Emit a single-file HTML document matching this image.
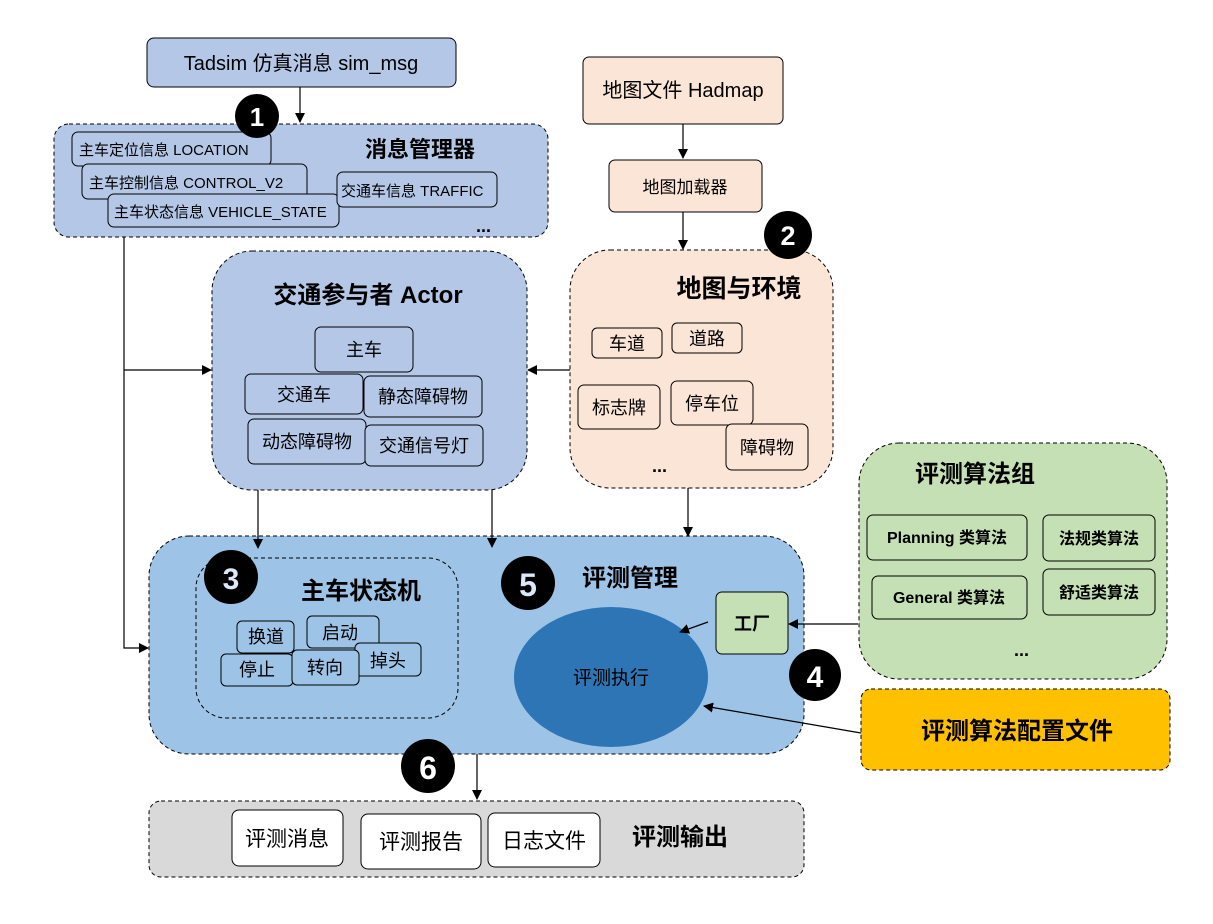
<!DOCTYPE html>
<html><head><meta charset="utf-8"><style>
body{margin:0;background:#fff}
text{font-family:"Liberation Sans","Noto Sans CJK SC",sans-serif;fill:#000}
.b{font-weight:bold}
</style></head><body>
<svg width="1213" height="919" viewBox="0 0 1213 919" xmlns="http://www.w3.org/2000/svg">
<defs><marker id="a" markerWidth="10" markerHeight="10" refX="9" refY="5" orient="auto" markerUnits="userSpaceOnUse"><path d="M0,0 L10,5 L0,10 z" fill="#000"/></marker></defs>
<!-- top -->
<rect x="147" y="38" width="309" height="49" rx="7" fill="#b4c7e7" stroke="#000"/>
<text x="301" y="70" font-size="20" text-anchor="middle">Tadsim 仿真消息  sim_msg</text>
<rect x="54" y="124" width="494" height="113" rx="15" fill="#b4c7e7" stroke="#000" stroke-dasharray="4,3"/>
<g fill="#b4c7e7" stroke="#000">
<rect x="72" y="132" width="199" height="34" rx="6"/>
<rect x="82" y="164" width="225" height="35" rx="6"/>
<rect x="108" y="194" width="231" height="33" rx="6"/>
<rect x="337" y="172" width="160" height="35" rx="6"/>
</g>
<text x="79" y="155" font-size="15">主车定位信息 LOCATION</text>
<text x="89" y="188" font-size="15">主车控制信息 CONTROL_V2</text>
<text x="114" y="217" font-size="15">主车状态信息 VEHICLE_STATE</text>
<text x="341" y="196" font-size="15">交通车信息 TRAFFIC</text>
<text x="365" y="157" font-size="22" class="b">消息管理器</text>
<text x="476" y="232" font-size="18" class="b">...</text>
<circle cx="257" cy="116" r="22" fill="#000"/><text x="257" y="126" font-size="26" class="b" text-anchor="middle" style="fill:#fff">1</text>
<!-- map -->
<rect x="583" y="57" width="200" height="67" rx="6" fill="#fbe5d6" stroke="#000"/>
<text x="683" y="97" font-size="20" text-anchor="middle">地图文件 Hadmap</text>
<rect x="609" y="160" width="153" height="52" rx="6" fill="#fbe5d6" stroke="#000"/>
<text x="685" y="193" font-size="17" text-anchor="middle">地图加载器</text>
<rect x="570" y="250" width="263" height="238" rx="40" fill="#fbe5d6" stroke="#000" stroke-dasharray="4,3"/>
<text x="739" y="297" font-size="25" class="b" text-anchor="middle">地图与环境</text>
<circle cx="788" cy="235" r="24" fill="#000"/><text x="788" y="245" font-size="27" class="b" text-anchor="middle" style="fill:#fff">2</text>
<g fill="#fbe5d6" stroke="#000">
<rect x="592" y="328" width="70" height="30" rx="5"/>
<rect x="672" y="323" width="70" height="30" rx="5"/>
<rect x="578" y="385" width="82" height="44" rx="6"/>
<rect x="671" y="381" width="82" height="44" rx="6"/>
<rect x="726" y="424" width="82" height="46" rx="6"/>
</g>
<g font-size="18" text-anchor="middle">
<text x="627" y="350">车道</text><text x="707" y="345">道路</text>
<text x="619" y="414">标志牌</text><text x="712" y="410">停车位</text><text x="767" y="454">障碍物</text>
</g>
<text x="652" y="472" font-size="18" class="b">...</text>
<!-- actor -->
<rect x="212" y="251" width="315" height="239" rx="40" fill="#b4c7e7" stroke="#000" stroke-dasharray="4,3"/>
<text x="368" y="303" font-size="24" class="b" text-anchor="middle">交通参与者 Actor</text>
<g fill="#b4c7e7" stroke="#000">
<rect x="315" y="327" width="98" height="45" rx="6"/>
<rect x="245" y="374" width="118" height="40" rx="6"/>
<rect x="364" y="376" width="118" height="41" rx="6"/>
<rect x="248" y="419" width="118" height="45" rx="6"/>
<rect x="365" y="425" width="118" height="41" rx="6"/>
</g>
<g font-size="18" text-anchor="middle">
<text x="364" y="356">主车</text><text x="304" y="401">交通车</text><text x="423" y="403">静态障碍物</text>
<text x="307" y="448">动态障碍物</text><text x="424" y="452">交通信号灯</text>
</g>
<!-- main -->
<rect x="149" y="536" width="655" height="218" rx="40" fill="#9dc3e6" stroke="#000" stroke-dasharray="4,3"/>
<rect x="196" y="558" width="262" height="160" rx="30" fill="none" stroke="#000" stroke-dasharray="4,3"/>
<circle cx="231" cy="577" r="27" fill="#000"/><text x="231" y="589" font-size="30" class="b" text-anchor="middle" style="fill:#dbe8f8">3</text>
<text x="361" y="599" font-size="24" class="b" text-anchor="middle">主车状态机</text>
<g fill="#9dc3e6" stroke="#000">
<rect x="237" y="621" width="57" height="32" rx="5"/>
<rect x="307" y="616" width="72" height="32" rx="5"/>
<rect x="355" y="643" width="66" height="33" rx="5"/>
<rect x="221" y="654" width="72" height="32" rx="5"/>
<rect x="292" y="650" width="67" height="35" rx="5"/>
</g>
<g font-size="18" text-anchor="middle">
<text x="266" y="643">换道</text><text x="340" y="639">启动</text><text x="388" y="667">掉头</text>
<text x="257" y="676">停止</text><text x="325" y="674">转向</text>
</g>
<circle cx="528" cy="583" r="27" fill="#000"/><text x="528" y="596" font-size="32" class="b" text-anchor="middle" style="fill:#dbe8f8">5</text>
<text x="630" y="586" font-size="24" class="b" text-anchor="middle">评测管理</text>
<ellipse cx="611" cy="677" rx="97" ry="70" fill="#2e75b6"/>
<text x="611" y="684" font-size="19" text-anchor="middle">评测执行</text>
<rect x="716" y="592" width="72" height="62" rx="6" fill="#c5e0b4" stroke="#000"/>
<text x="752" y="630" font-size="18" class="b" text-anchor="middle">工厂</text>
<!-- green -->
<rect x="859" y="443" width="308" height="236" rx="40" fill="#c5e0b4" stroke="#000" stroke-dasharray="4,3"/>
<text x="975" y="482" font-size="24" class="b" text-anchor="middle">评测算法组</text>
<g fill="#c5e0b4" stroke="#000">
<rect x="867" y="515" width="160" height="45" rx="6"/>
<rect x="1043" y="515" width="112" height="46" rx="6"/>
<rect x="872" y="576" width="155" height="43" rx="6"/>
<rect x="1043" y="569" width="112" height="46" rx="6"/>
</g>
<g font-size="16" class="b" text-anchor="middle">
<text x="947" y="543">Planning 类算法</text><text x="1099" y="544">法规类算法</text>
<text x="949" y="603">General 类算法</text><text x="1099" y="598">舒适类算法</text>
</g>
<text x="1014" y="656" font-size="18" class="b">...</text>
<circle cx="815" cy="675" r="26" fill="#000"/><text x="815" y="687" font-size="30" class="b" text-anchor="middle" style="fill:#fff">4</text>
<rect x="861" y="689" width="309" height="81" rx="10" fill="#ffc000" stroke="#000" stroke-dasharray="4,3"/>
<text x="1017" y="739" font-size="24" class="b" text-anchor="middle">评测算法配置文件</text>
<!-- output -->
<circle cx="428" cy="766" r="27" fill="#000"/><text x="428" y="779" font-size="32" class="b" text-anchor="middle" style="fill:#fff">6</text>
<rect x="149" y="801" width="655" height="76" rx="12" fill="#d9d9d9" stroke="#000" stroke-dasharray="4,3"/>
<g fill="#fff" stroke="#000">
<rect x="232" y="810" width="111" height="56" rx="7"/>
<rect x="361" y="814" width="120" height="55" rx="7"/>
<rect x="488" y="813" width="112" height="54" rx="7"/>
</g>
<g font-size="21" text-anchor="middle">
<text x="287" y="846">评测消息</text><text x="421" y="849">评测报告</text><text x="544" y="848">日志文件</text>
</g>
<text x="680" y="845" font-size="24" class="b" text-anchor="middle">评测输出</text>
<!-- connectors on top -->
<g stroke="#000" stroke-width="1.2" fill="none">
<line x1="300" y1="87" x2="300" y2="122" marker-end="url(#a)"/>
<line x1="683" y1="124" x2="683" y2="158" marker-end="url(#a)"/>
<line x1="683" y1="212" x2="683" y2="249" marker-end="url(#a)"/>
<polyline points="124,237 124,648 148,648" marker-end="url(#a)"/>
<line x1="124" y1="370" x2="211" y2="370" marker-end="url(#a)"/>
<line x1="570" y1="370" x2="528" y2="370" marker-end="url(#a)"/>
<line x1="258" y1="490" x2="258" y2="548" marker-end="url(#a)"/>
<line x1="492" y1="490" x2="492" y2="547" marker-end="url(#a)"/>
<line x1="688" y1="488" x2="688" y2="536" marker-end="url(#a)"/>
<line x1="477" y1="754" x2="477" y2="799" marker-end="url(#a)"/>
<line x1="858" y1="624" x2="789" y2="624" marker-end="url(#a)"/>
<line x1="708" y1="622" x2="680" y2="632" marker-end="url(#a)"/>
<line x1="861" y1="733" x2="704" y2="706" marker-end="url(#a)"/>
</g>
</svg>
</body></html>
